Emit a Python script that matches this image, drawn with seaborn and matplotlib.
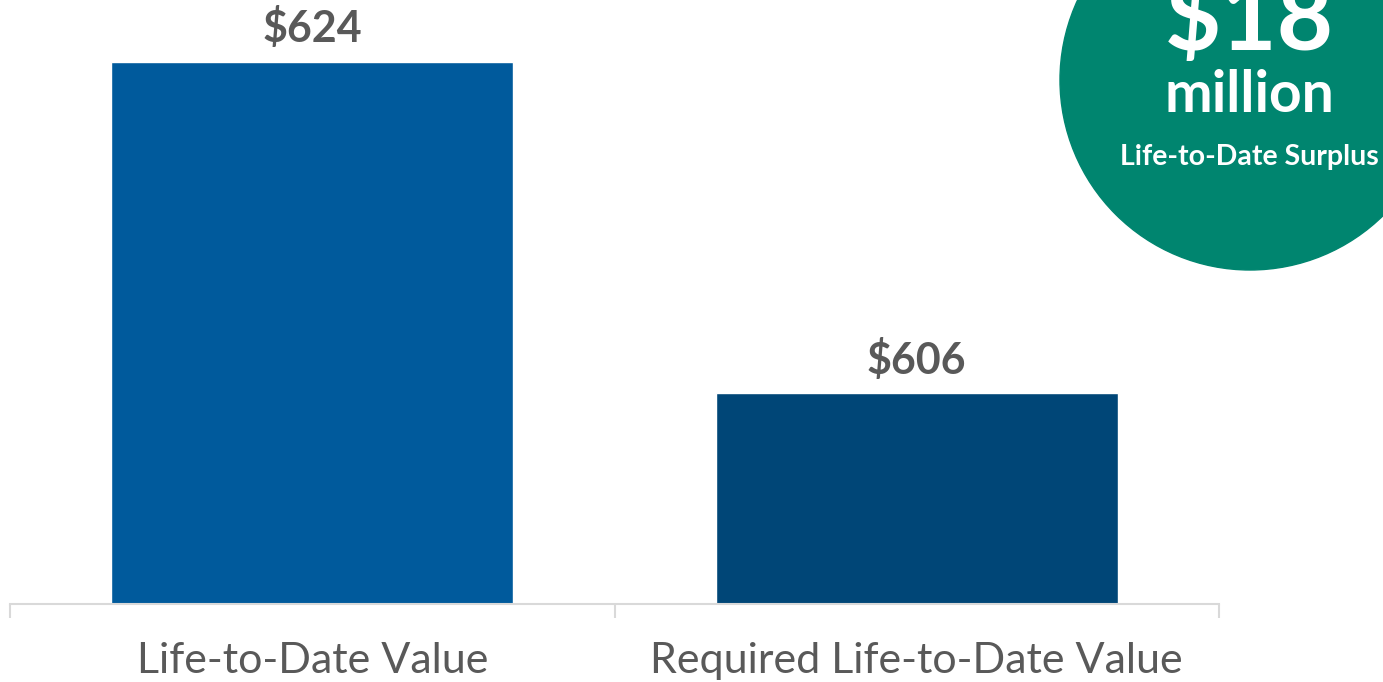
import matplotlib
matplotlib.use("Agg")
import matplotlib.pyplot as plt
from matplotlib.patches import Circle
import seaborn as sns
import pandas as pd

categories = ["Life-to-Date Value", "Required Life-to-Date Value"]
values = [624, 606]
value_labels = ["$624", "$606"]
bar_colors = ["#005A9C", "#004677"]
badge_value = "$18"
badge_unit = "million"
badge_caption = "Life-to-Date Surplus"

sns.set_theme(style="white")
plt.rcParams['font.family'] = ['Lato', 'DejaVu Sans']

df = pd.DataFrame({"category": categories, "value": values})

fig = plt.figure(figsize=(13.83, 6.82), dpi=100)
ax = fig.add_axes([10/1383, 1 - 603.5/682, 1209/1383, 603.5/682])
sns.barplot(data=df, x="category", y="value", hue="category", palette=bar_colors,
            width=0.665, legend=False, ax=ax, saturation=1)
ax.set_ylim(594.56, 627.37)
ax.set_xlim(-0.5, 1.5)
for s in ["top", "right", "left"]:
    ax.spines[s].set_visible(False)
ax.spines["bottom"].set_color("#D9D9D9")
ax.spines["bottom"].set_linewidth(1.5)
ax.set_yticks([])
ax.set_xlabel("")
ax.set_ylabel("")
ax.set_xticks([0, 1])
ax.set_xticklabels(categories, fontsize=31, color="#595959", fontweight="normal")
ax.tick_params(axis="x", which="major", length=0, pad=28)
ax.set_xticks([-0.5, 0.5, 1.5], minor=True)
ax.tick_params(axis="x", which="minor", bottom=True, length=10, width=1.5,
               color="#D9D9D9", direction="out")

for i, (v, lab) in enumerate(zip(values, value_labels)):
    ax.annotate(lab, (i, v), xytext=(0, 9), textcoords="offset points",
                ha="center", va="bottom", fontsize=31, fontweight="bold", color="#595959")

ov = fig.add_axes([0, 0, 1, 1], facecolor="none")
ov.set_xlim(0, 1383)
ov.set_ylim(682, 0)
ov.axis("off")
ov.add_patch(Circle((1250, 80), 190, color="#00856F", clip_on=False))
ov.text(1249, 50, badge_value, ha="center", va="baseline", fontsize=70,
        fontweight="bold", color="white")
ov.text(1249, 112, badge_unit, ha="center", va="baseline", fontsize=41,
        fontweight="bold", color="white")
ov.text(1249, 165, badge_caption, ha="center", va="baseline", fontsize=20.5,
        fontweight="bold", color="white")

fig.savefig("out.png", dpi=100)
